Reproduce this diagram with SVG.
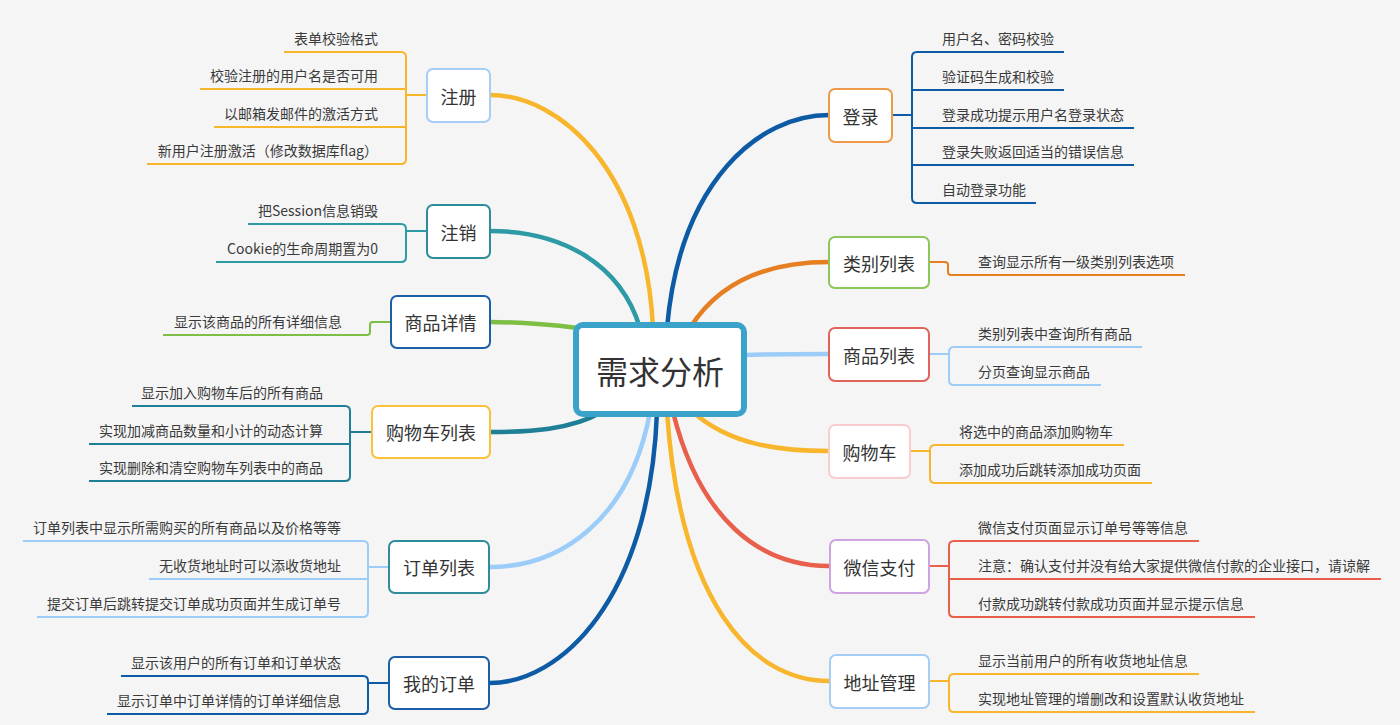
<svg xmlns="http://www.w3.org/2000/svg" width="1400" height="725" viewBox="0 0 1400 725">
<style>
text{font-family:"Noto Sans CJK SC","Noto Sans",sans-serif;fill:#3a3a3a}
.c{font-size:14px}
.l{text-anchor:end}
.n{font-size:18px;text-anchor:middle;dominant-baseline:central;fill:#333}
.box{fill:#fff;stroke-width:2}
.main{fill:none;stroke-width:4.5;stroke-linecap:round}
.br{fill:none;stroke-width:2}
</style>
<rect width="1400" height="725" fill="#f5f5f5"/>
<g id="connectors">
<path class="main" stroke="#f8b62d" d="M653 328 C645 170 560 95 490 95"/>
<path class="main" stroke="#2e9aa6" d="M640 328 C620 262 560 231 490 231"/>
<path class="main" stroke="#7dbf45" d="M578 328 C545 324 520 322 490 322"/>
<path class="main" stroke="#1f7f96" d="M602 412 C570 430 530 432 490 432"/>
<path class="main" stroke="#9ccdf8" d="M650 412 C630 520 560 567 490 567"/>
<path class="main" stroke="#0e5ba5" d="M657 412 C650 600 560 683 490 683"/>
<path class="main" stroke="#0e5ba5" d="M667 328 C680 180 760 115 829 115"/>
<path class="main" stroke="#e67e22" d="M690 328 C720 280 770 262 829 262"/>
<path class="main" stroke="#9ccdf8" d="M744 355 C780 354 800 354 829 354"/>
<path class="main" stroke="#f8b62d" d="M693 412 C730 445 780 451 829 451"/>
<path class="main" stroke="#e8604c" d="M673 412 C700 520 760 566 829 566"/>
<path class="main" stroke="#f8b62d" d="M667 412 C680 600 750 681 829 681"/>
<!-- left branches -->
<g stroke="#f8b62d" class="br">
<path d="M427 95 H406"/>
<path d="M284 52 H401 Q406 52 406 57 V159 Q406 164 401 164 H147"/>
<path d="M200 89 H406"/><path d="M214 127 H406"/>
</g>
<g stroke="#2e9aa6" class="br">
<path d="M427 231 H406"/>
<path d="M248 224 H401 Q406 224 406 229 V257 Q406 262 401 262 H216"/>
</g>
<path class="br" stroke="#7dbf45" d="M391 322 H373 Q370 322 370 325 V332 Q370 335 367 335 H163"/>
<g stroke="#1f7f96" class="br">
<path d="M372 432 H350"/>
<path d="M132 406 H345 Q350 406 350 411 V476 Q350 481 345 481 H89"/>
<path d="M89 444 H350"/>
</g>
<g stroke="#9ccdf8" class="br">
<path d="M389 567 H368"/>
<path d="M23 541 H363 Q368 541 368 546 V612 Q368 617 363 617 H37"/>
<path d="M149 579 H368"/>
</g>
<g stroke="#0e5ba5" class="br">
<path d="M389 683 H368"/>
<path d="M121 676 H363 Q368 676 368 681 V709 Q368 714 363 714 H107"/>
</g>
<!-- right branches -->
<g stroke="#0e5ba5" class="br">
<path d="M892 115 H912"/>
<path d="M1064 52 H917 Q912 52 912 57 V198 Q912 203 917 203 H1036"/>
<path d="M912 90 H1064"/><path d="M912 128 H1134"/><path d="M912 165 H1134"/>
</g>
<path class="br" stroke="#e67e22" d="M929 262 H945 Q948 262 948 265 V272 Q948 275 951 275 H1185"/>
<g stroke="#9ccdf8" class="br">
<path d="M929 354 H949"/>
<path d="M1142 347 H954 Q949 347 949 352 V380 Q949 385 954 385 H1101"/>
</g>
<g stroke="#f8b62d" class="br">
<path d="M910 451 H930"/>
<path d="M1124 445 H935 Q930 445 930 450 V478 Q930 483 935 483 H1152"/>
</g>
<g stroke="#e8604c" class="br">
<path d="M929 566 H949"/>
<path d="M1199 541 H954 Q949 541 949 546 V612 Q949 617 954 617 H1255"/>
<path d="M949 579 H1381"/>
</g>
<g stroke="#f8b62d" class="br">
<path d="M929 681 H949"/>
<path d="M1199 674 H954 Q949 674 949 679 V707 Q949 712 954 712 H1255"/>
</g>
</g>
<g id="center">
<rect x="576" y="325" width="168" height="89" rx="7" fill="#fff" stroke="#3ba3c9" stroke-width="6"/>
<text x="660" y="370" style="font-size:32px;text-anchor:middle;dominant-baseline:central;fill:#333">需求分析</text>
</g>
<g id="n-zhuce">
<rect class="box" x="427" y="69" width="63" height="53" rx="6" stroke="#a5cdf5"/>
<text class="n" x="458.5" y="95.5">注册</text>
<text class="c l" x="378" y="44">表单校验格式</text>
<text class="c l" x="378" y="81">校验注册的用户名是否可用</text>
<text class="c l" x="378" y="119">以邮箱发邮件的激活方式</text>
<text class="c l" x="378" y="156">新用户注册激活（修改数据库flag）</text>
</g>
<g id="n-zhuxiao">
<rect class="box" x="427" y="205" width="63" height="53" rx="6" stroke="#2e8d99"/>
<text class="n" x="458.5" y="231.5">注销</text>
<text class="c l" x="378" y="216">把Session信息销毁</text>
<text class="c l" x="378" y="254">Cookie的生命周期置为0</text>
</g>
<g id="n-spxq">
<rect class="box" x="391" y="296" width="99" height="52" rx="6" stroke="#1a5fa8"/>
<text class="n" x="440.5" y="322">商品详情</text>
<text class="c l" x="342" y="327">显示该商品的所有详细信息</text>
</g>
<g id="n-gwclb">
<rect class="box" x="372" y="406" width="118" height="52" rx="6" stroke="#f8c23a"/>
<text class="n" x="431" y="432">购物车列表</text>
<text class="c l" x="323" y="398">显示加入购物车后的所有商品</text>
<text class="c l" x="323" y="436">实现加减商品数量和小计的动态计算</text>
<text class="c l" x="323" y="473">实现删除和清空购物车列表中的商品</text>
</g>
<g id="n-ddlb">
<rect class="box" x="389" y="541" width="100" height="52" rx="6" stroke="#2e8d99"/>
<text class="n" x="439" y="567">订单列表</text>
<text class="c l" x="341" y="533">订单列表中显示所需购买的所有商品以及价格等等</text>
<text class="c l" x="341" y="571">无收货地址时可以添收货地址</text>
<text class="c l" x="341" y="609">提交订单后跳转提交订单成功页面并生成订单号</text>
</g>
<g id="n-wddd">
<rect class="box" x="389" y="657" width="100" height="52" rx="6" stroke="#1a5fa8"/>
<text class="n" x="439" y="683">我的订单</text>
<text class="c l" x="341" y="668">显示该用户的所有订单和订单状态</text>
<text class="c l" x="341" y="706">显示订单中订单详情的订单详细信息</text>
</g>
<g id="n-denglu">
<rect class="box" x="829" y="89" width="63" height="53" rx="6" stroke="#ef9a4b"/>
<text class="n" x="860.5" y="115.5">登录</text>
<text class="c" x="942" y="44">用户名、密码校验</text>
<text class="c" x="942" y="82">验证码生成和校验</text>
<text class="c" x="942" y="120">登录成功提示用户名登录状态</text>
<text class="c" x="942" y="157">登录失败返回适当的错误信息</text>
<text class="c" x="942" y="195">自动登录功能</text>
</g>
<g id="n-lblb">
<rect class="box" x="829" y="237" width="100" height="51" rx="6" stroke="#8dc65a"/>
<text class="n" x="879" y="262.5">类别列表</text>
<text class="c" x="978" y="267">查询显示所有一级类别列表选项</text>
</g>
<g id="n-splb">
<rect class="box" x="829" y="328" width="100" height="53" rx="6" stroke="#e0645a"/>
<text class="n" x="879" y="354.5">商品列表</text>
<text class="c" x="978" y="339">类别列表中查询所有商品</text>
<text class="c" x="978" y="377">分页查询显示商品</text>
</g>
<g id="n-gwc">
<rect class="box" x="829" y="425" width="81" height="53" rx="6" stroke="#f9cdd0"/>
<text class="n" x="869.5" y="451.5">购物车</text>
<text class="c" x="959" y="437">将选中的商品添加购物车</text>
<text class="c" x="959" y="475">添加成功后跳转添加成功页面</text>
</g>
<g id="n-wxzf">
<rect class="box" x="830" y="540" width="99" height="53" rx="6" stroke="#cda4e0"/>
<text class="n" x="879.5" y="566.5">微信支付</text>
<text class="c" x="978" y="533">微信支付页面显示订单号等等信息</text>
<text class="c" x="978" y="571">注意：确认支付并没有给大家提供微信付款的企业接口，请谅解</text>
<text class="c" x="978" y="609">付款成功跳转付款成功页面并显示提示信息</text>
</g>
<g id="n-dzgl">
<rect class="box" x="830" y="655" width="99" height="53" rx="6" stroke="#a5cdf5"/>
<text class="n" x="879.5" y="681.5">地址管理</text>
<text class="c" x="978" y="666">显示当前用户的所有收货地址信息</text>
<text class="c" x="978" y="704">实现地址管理的增删改和设置默认收货地址</text>
</g>
</svg>
